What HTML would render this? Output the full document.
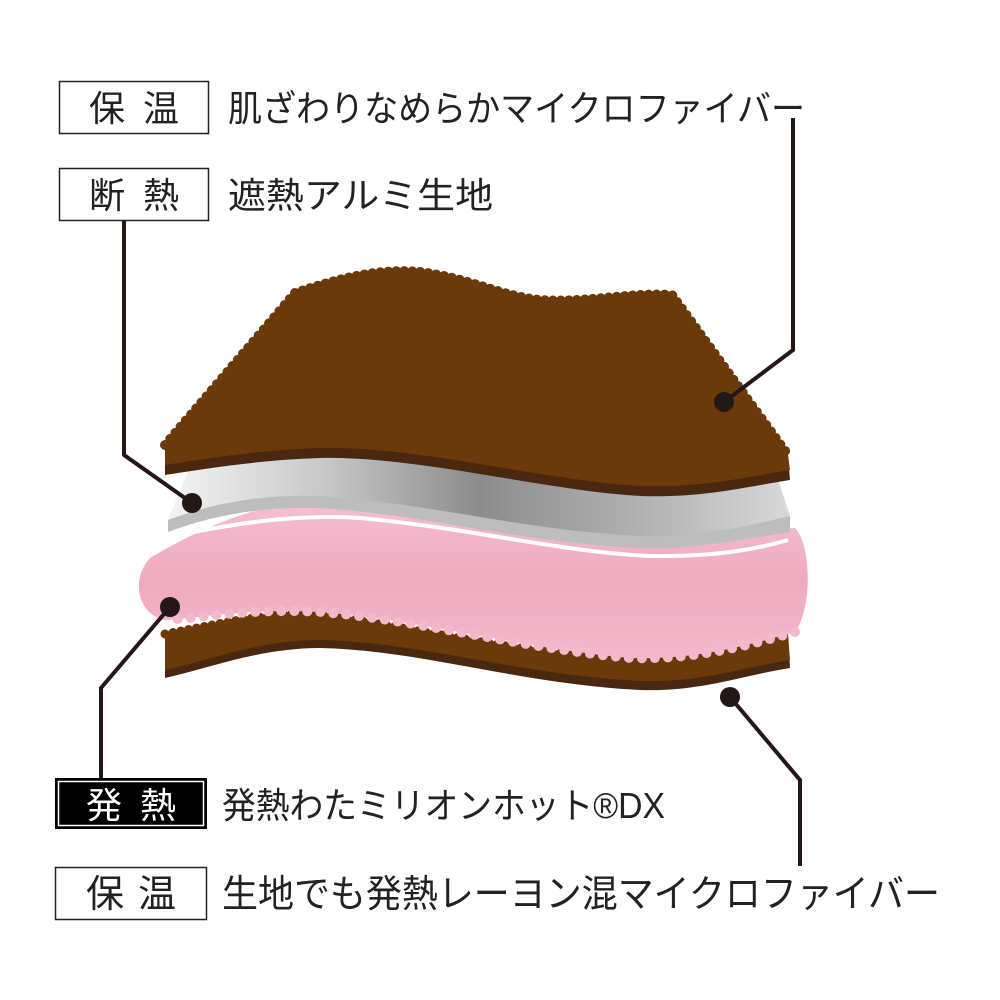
<!DOCTYPE html>
<html><head><meta charset="utf-8"><style>
html,body{margin:0;padding:0;background:#fff;}
svg{display:block;}
text{font-family:"Liberation Sans","Noto Sans CJK JP",sans-serif;}
</style></head><body>
<svg width="1000" height="1000" viewBox="0 0 1000 1000" xmlns="http://www.w3.org/2000/svg">
<defs>
<linearGradient id="sil" x1="0" y1="0" x2="1" y2="0">
<stop offset="0" stop-color="#f4f4f4"/><stop offset="0.25" stop-color="#c8c8c8"/>
<stop offset="0.5" stop-color="#8c8c8c"/><stop offset="0.8" stop-color="#b8b8b8"/><stop offset="1" stop-color="#d8d8d8"/>
</linearGradient>
<linearGradient id="pk" x1="0" y1="0" x2="0" y2="1">
<stop offset="0" stop-color="#f6bfd1"/><stop offset="0.5" stop-color="#eeaabf"/><stop offset="1" stop-color="#f4b8cb"/>
</linearGradient>
</defs>
<!-- boxes -->
<rect x="59.5" y="81.5" width="149" height="52" fill="#fff" stroke="#222" stroke-width="1.5"/>
<text x="134" y="121" font-size="36" text-anchor="middle" textLength="90" fill="#222">保温</text>
<text x="228" y="121" font-size="36" textLength="577" lengthAdjust="spacingAndGlyphs" fill="#222">肌ざわりなめらかマイクロファイバー</text>
<rect x="59.5" y="168.5" width="149" height="52" fill="#fff" stroke="#222" stroke-width="1.5"/>
<text x="134" y="208" font-size="36" text-anchor="middle" textLength="90" fill="#222">断熱</text>
<text x="228" y="208" font-size="36" textLength="265" lengthAdjust="spacingAndGlyphs" fill="#222">遮熱アルミ生地</text>

<rect x="55" y="778" width="152" height="51" fill="#000"/>
<rect x="58.5" y="781.5" width="145" height="44" fill="none" stroke="#fff" stroke-width="1.5"/>
<text x="131" y="818" font-size="36" text-anchor="middle" textLength="90" fill="#fff">発熱</text>
<text x="222" y="818" font-size="36" textLength="443" lengthAdjust="spacingAndGlyphs" fill="#222">発熱わたミリオンホット®DX</text>
<rect x="55.5" y="867.5" width="151" height="52" fill="#fff" stroke="#222" stroke-width="1.5"/>
<text x="131" y="907" font-size="38" text-anchor="middle" textLength="90" fill="#222">保温</text>
<text x="222" y="907" font-size="38" textLength="718" lengthAdjust="spacingAndGlyphs" fill="#222">生地でも発熱レーヨン混マイクロファイバー</text>

<!-- bottom brown -->
<path d="M165,634 C230,622 280,609 330,616 C450,634 560,662 660,658 C720,654 760,642 788,634 L790,668 C740,676 700,692 640,690 C520,684 420,650 320,648 C260,648 210,668 165,678 Z" fill="#4a2810"/>
<path d="M165,634 C230,622 280,609 330,616 C450,634 560,662 660,658 C720,654 760,642 788,634 L790,660 C740,668 700,683 640,681 C520,675 420,642 320,640 C260,640 210,660 165,670 Z" fill="#6b3a0a"/>
<path d="M165,634 C230,622 280,609 330,616 C450,634 560,662 660,658 C720,654 760,642 788,634" fill="none" stroke="#6b3a0a" stroke-width="9" stroke-dasharray="0 8" stroke-linecap="round"/>

<!-- pink -->
<path d="M150,558 C200,528 260,502 320,500 C430,507 520,534 640,540 C700,542 760,530 795,528 C812,545 812,610 795,632 C740,648 690,660 630,658 C520,648 420,620 320,612 C250,608 200,618 165,620 C138,615 130,580 150,558 Z" fill="url(#pk)"/>
<path d="M795,632 C740,648 690,660 630,658 C520,648 420,620 320,612 C250,608 200,618 165,620" fill="none" stroke="#f4b8cb" stroke-width="10" stroke-dasharray="0 13" stroke-linecap="round"/>

<!-- silver -->
<path d="M190,466 C250,452 290,446 320,448 C450,460 560,490 660,490 C720,488 750,478 775,470 L790,516 L790,532 C740,540 690,550 640,548 C520,542 430,515 320,508 C260,506 210,516 168,532 L168,520 Z" fill="url(#sil)"/>
<path d="M168,520 C210,504 260,494 320,496 C430,503 520,530 640,536 C690,538 740,528 790,516 L790,532 C740,540 690,550 640,548 C520,542 430,515 320,508 C260,506 210,516 168,532 Z" fill="#bdbdbd"/>
<path d="M175,536 C240,522 300,514 360,518 C470,528 560,552 650,556 C720,557 760,548 788,540" fill="none" stroke="#fff" stroke-width="4"/>

<!-- top brown -->
<path d="M165,475 L165,445 L295,293 C340,278 380,268 420,272 C470,278 500,296 540,300 C590,303 630,292 672,295 L788,455 L790,480 C740,488 700,498 640,496 C540,490 420,456 320,458 C260,460 210,468 165,475 Z" fill="#4a2810"/>
<path d="M165,465 L165,445 L295,293 C340,278 380,268 420,272 C470,278 500,296 540,300 C590,303 630,292 672,295 L788,455 L790,470 C740,478 700,488 640,486 C540,480 420,446 320,448 C260,450 210,458 165,465 Z" fill="#6b3a0a"/>
<path d="M165,445 L295,293 C340,278 380,268 420,272 C470,278 500,296 540,300 C590,303 630,292 672,295 L788,455" fill="none" stroke="#6b3a0a" stroke-width="10" stroke-dasharray="0 8" stroke-linecap="round"/>

<!-- leaders -->
<g stroke="#231815" stroke-width="4" fill="none">
<polyline points="793,118 793,350 724,402"/>
<polyline points="124,221 124,455 192,503"/>
<polyline points="170,607 101,688 101,778"/>
<polyline points="730,697 800,780 800,866"/>
</g>
<g fill="#231815">
<circle cx="724" cy="402" r="10"/><circle cx="192" cy="503" r="10"/>
<circle cx="170" cy="607" r="10"/><circle cx="730" cy="697" r="10"/>
</g>
</svg>
</body></html>
